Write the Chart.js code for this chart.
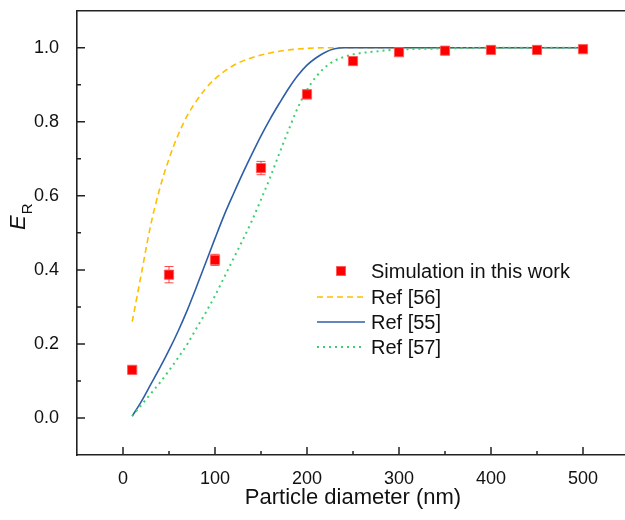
<!DOCTYPE html>
<html>
<head>
<meta charset="utf-8">
<script src="https://cdn.jsdelivr.net/npm/chart.js@4"></script>
<style>
html,body{margin:0;padding:0;background:#fff;overflow:hidden;}
#wrap{position:relative;width:640px;height:520px;}
</style>
</head>
<body>
<div id="wrap"><canvas id="c"></canvas></div>
<script>
// ---- data ----
const xTicks = [0, 100, 200, 300, 400, 500];
const yTicks = [0.0, 0.2, 0.4, 0.6, 0.8, 1.0];

const simX   = [10, 50, 100, 150, 200, 250, 300, 350, 400, 450, 500];
const simY   = [0.130, 0.387, 0.427, 0.675, 0.874, 0.964, 0.988, 0.992, 0.994, 0.994, 0.996];
const simErr = [0.005, 0.022, 0.015, 0.018, 0.012, 0.006, 0.004, 0.003, 0.003, 0.003, 0.004];

const ref56X = [10, 20, 30, 40, 50, 60, 70, 80, 90, 100, 120, 140, 160, 180, 200, 220, 250, 300, 400, 500];
const ref56Y = [0.26, 0.39, 0.52, 0.62, 0.70, 0.765, 0.817, 0.857, 0.89, 0.916, 0.952, 0.973, 0.986, 0.994, 0.998, 1.0, 1.0, 1.0, 1.0, 1.0];

const ref55X = [10, 20, 30, 40, 50, 60, 70, 80, 90, 100, 110, 120, 130, 140, 150, 160, 170, 180, 190, 200, 210, 220, 230, 240, 300, 400, 500];
const ref55Y = [0.005, 0.045, 0.09, 0.135, 0.183, 0.235, 0.292, 0.355, 0.42, 0.485, 0.548, 0.605, 0.66, 0.712, 0.762, 0.808, 0.85, 0.89, 0.925, 0.953, 0.973, 0.988, 0.997, 1.0, 1.0, 1.0, 1.0];

const ref57X = [10, 20, 30, 40, 50, 60, 70, 80, 90, 100, 110, 120, 130, 140, 150, 160, 170, 180, 190, 200, 210, 220, 230, 240, 250, 275, 300, 350, 400, 500];
const ref57Y = [0.005, 0.035, 0.065, 0.095, 0.128, 0.163, 0.2, 0.243, 0.285, 0.33, 0.38, 0.43, 0.48, 0.532, 0.59, 0.65, 0.715, 0.778, 0.838, 0.886, 0.922, 0.948, 0.965, 0.975, 0.982, 0.99, 0.995, 0.998, 1.0, 1.0];

const seriesNames = ['Simulation in this work', 'Ref [56]', 'Ref [55]', 'Ref [57]'];
const xTitle = 'Particle diameter (nm)';

const pts = (xs, ys) => xs.map((x, i) => ({x: x, y: ys[i]}));

const FONT = "'Liberation Sans', Arial, sans-serif";
const AXIS = '#222';

const colSim = '#ff0000';
const col56 = '#ffbf00';
const col55 = '#2f5ea8';
const col57 = '#3fcf70';

const errPlugin = {
  id: 'err',
  beforeDatasetsDraw(chart) {
    const {ctx, scales: {x, y}} = chart;
    ctx.save();
    ctx.strokeStyle = 'rgba(255,40,40,0.85)';
    ctx.lineWidth = 1;
    simX.forEach((v, i) => {
      const px = x.getPixelForValue(v);
      const y1 = y.getPixelForValue(simY[i] + simErr[i]);
      const y2 = y.getPixelForValue(simY[i] - simErr[i]);
      ctx.beginPath();
      ctx.moveTo(px, y1); ctx.lineTo(px, y2);
      ctx.moveTo(px - 4.5, y1); ctx.lineTo(px + 4.5, y1);
      ctx.moveTo(px - 4.5, y2); ctx.lineTo(px + 4.5, y2);
      ctx.stroke();
    });
    ctx.restore();
  }
};

const framePlugin = {
  id: 'frame',
  afterDraw(chart) {
    const {ctx, chartArea: a, scales: {x, y}} = chart;
    ctx.save();
    ctx.strokeStyle = AXIS;
    ctx.lineWidth = 1.6;
    ctx.beginPath();
    ctx.moveTo(a.left, a.top); ctx.lineTo(a.right, a.top); ctx.lineTo(a.right, a.bottom);
    ctx.stroke();
    ctx.lineWidth = 1.5;
    ctx.beginPath();
    xTicks.forEach(v => {
      const px = x.getPixelForValue(v);
      ctx.moveTo(px, a.bottom); ctx.lineTo(px, a.bottom - 8);
      const pm = x.getPixelForValue(v + 50);
      if (v + 50 < x.max) { ctx.moveTo(pm, a.bottom); ctx.lineTo(pm, a.bottom - 4); }
    });
    yTicks.forEach(v => {
      const py = y.getPixelForValue(v);
      ctx.moveTo(a.left, py); ctx.lineTo(a.left + 8, py);
      const pm = y.getPixelForValue(v + 0.1);
      if (v + 0.1 < y.max - 1e-9) { ctx.moveTo(a.left, pm); ctx.lineTo(a.left + 4, pm); }
    });
    ctx.stroke();

    ctx.fillStyle = '#111';
    ctx.font = '22px ' + FONT;
    ctx.textAlign = 'center';
    ctx.textBaseline = 'middle';
    ctx.fillText(xTitle, (a.left + a.right) / 2, 498);

    ctx.save();
    ctx.translate(25, 230);
    ctx.rotate(-Math.PI / 2);
    ctx.textAlign = 'left';
    ctx.textBaseline = 'alphabetic';
    ctx.font = 'italic 22px ' + FONT;
    ctx.fillText('E', 0, 0);
    const w = ctx.measureText('E').width;
    ctx.font = '15px ' + FONT;
    ctx.fillText('R', w + 1, 7);
    ctx.restore();

    const rows = [271, 297, 322, 347];
    const lx1 = 317, lx2 = 365, tx = 371;
    ctx.font = '20px ' + FONT;
    ctx.textAlign = 'left';
    ctx.textBaseline = 'middle';
    rows.forEach((ry, i) => {
      const ds = chart.data.datasets[i];
      if (i === 0) {
        ctx.fillStyle = colSim;
        ctx.strokeStyle = 'rgba(255,90,90,0.9)';
        ctx.lineWidth = 1;
        ctx.fillRect(336.5, ry - 4.5, 9, 9);
        ctx.strokeRect(336.5, ry - 4.5, 9, 9);
      } else {
        ctx.strokeStyle = ds.borderColor;
        ctx.lineWidth = ds.borderWidth;
        ctx.setLineDash(ds.borderDash || []);
        ctx.beginPath();
        ctx.moveTo(lx1, ry); ctx.lineTo(lx2, ry);
        ctx.stroke();
        ctx.setLineDash([]);
      }
      ctx.fillStyle = '#111';
      ctx.fillText(seriesNames[i], tx, ry + 1);
    });
    ctx.restore();
  }
};

new Chart(document.getElementById('c'), {
  type: 'scatter',
  data: {
    datasets: [
      {
        label: seriesNames[0], data: pts(simX, simY),
        pointStyle: 'rect', pointRadius: 6.5, pointHoverRadius: 6.5,
        backgroundColor: colSim, borderColor: 'rgba(255,90,90,0.9)', borderWidth: 1,
        showLine: false, order: 0
      },
      {
        label: seriesNames[1], data: pts(ref56X, ref56Y), showLine: true,
        borderColor: col56, borderWidth: 1.6, borderDash: [6, 4], pointRadius: 0,
        cubicInterpolationMode: 'monotone', order: 3
      },
      {
        label: seriesNames[2], data: pts(ref55X, ref55Y), showLine: true,
        borderColor: col55, borderWidth: 1.6, pointRadius: 0,
        cubicInterpolationMode: 'monotone', order: 2
      },
      {
        label: seriesNames[3], data: pts(ref57X, ref57Y), showLine: true,
        borderColor: col57, borderWidth: 2, borderDash: [2, 4], pointRadius: 0,
        cubicInterpolationMode: 'monotone', order: 1
      }
    ]
  },
  options: {
    responsive: true,
    maintainAspectRatio: false,
    animation: false,
    events: [],
    layout: {padding: {left: 0, top: 10.7, right: 11, bottom: 0}},
    plugins: {legend: {display: false}, tooltip: {enabled: false}},
    scales: {
      x: {
        type: 'linear', min: -50, max: 550,
        afterBuildTicks: s => { s.ticks = xTicks.map(v => ({value: v})); },
        afterFit: s => { s.height = 65; s.paddingLeft = 0; s.paddingRight = 0; },
        grid: {display: false},
        border: {display: true, color: AXIS, width: 1.6},
        ticks: {color: '#111', font: {size: 18, family: FONT}, padding: 5, maxRotation: 0,
                callback: v => String(v)}
      },
      y: {
        type: 'linear', min: -0.1, max: 1.1,
        afterBuildTicks: s => { s.ticks = yTicks.map(v => ({value: v})); },
        afterFit: s => { s.width = 77; s.paddingTop = 0; s.paddingBottom = 0; },
        grid: {display: false},
        border: {display: true, color: AXIS, width: 1.6},
        ticks: {color: '#111', font: {size: 18, family: FONT}, padding: 10,
                callback: v => Number(v).toFixed(1)}
      }
    }
  },
  plugins: [errPlugin, framePlugin]
});
</script>
</body>
</html>
